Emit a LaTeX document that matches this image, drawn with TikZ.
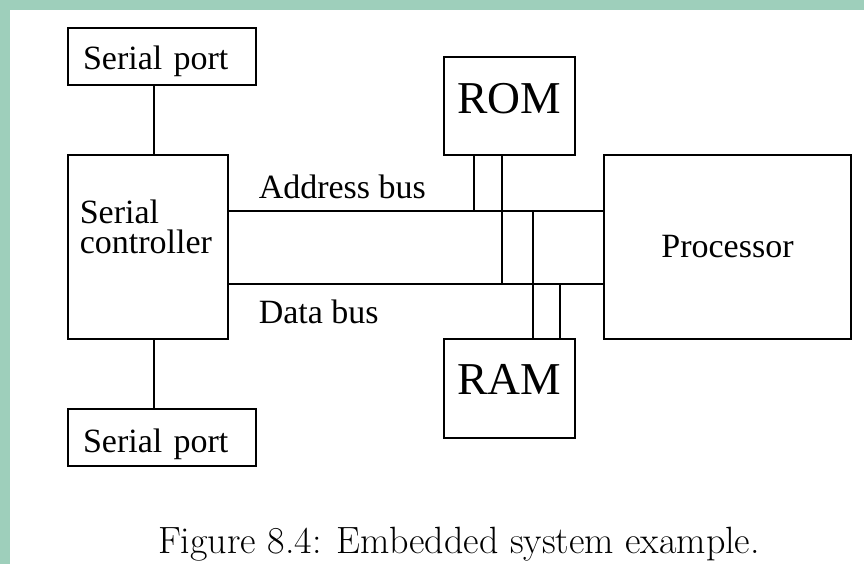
\documentclass[tikz,border=0pt]{standalone}
\usepackage{fontspec}
\setmainfont{Liberation Serif}
\newfontfamily\capfont{Latin Modern Roman}
\definecolor{bordergreen}{RGB}{158,207,187}
\begin{document}
\begin{tikzpicture}[x=1pt,y=-1pt,line width=1.5pt,
        font=\fontsize{34}{30}\selectfont]
        \useasboundingbox (0,0) rectangle (864,564);
        \fill[bordergreen] (0,0) rectangle (864,564);
        \fill[white] (10,10) rectangle (864,564);
        \begin{scope}[every node/.style={draw,rectangle,line width=1.5pt,
                        inner sep=0pt}]
            \node (sp1) at (162,56.5) [minimum width=188pt,minimum height=57pt,
                text width=158pt,inner xsep=15pt,align=left,
                text height=34pt,text depth=7pt]{Serial port};
            \node (ctrl) at (148,247) [minimum width=160pt,minimum height=184pt]{};
            \node (sp2) at (162,437.5) [minimum width=188pt,minimum height=57pt,
                text width=158pt,inner xsep=15pt,align=left,
                text height=36pt,text depth=7pt]{Serial port};
            \node (rom) at (509.5,106) [minimum width=131pt,minimum height=98pt,
                font=\fontsize{45.6}{50}\selectfont,text depth=16pt]{ROM};
            \node (ram) at (509.5,388.5) [minimum width=131pt,minimum height=99pt,
                font=\fontsize{45.6}{50}\selectfont,text depth=18pt]{RAM};
            \node (proc) at (727.5,247) [minimum width=247pt,minimum height=184pt]{Processor};
        \end{scope}
        \node (ctrltxt) at (79,199) [anchor=north west,inner sep=0pt,align=left]{Serial\\controller};
        \node (abus) at (258,198) [anchor=base west,inner sep=0pt]{Address bus};
        \node (dbus) at (258,323) [anchor=base west,inner sep=0pt]{Data bus};
        \node (cap) at (459,553) [anchor=base,inner sep=0pt,
            font=\capfont\fontsize{38}{45}\selectfont]{Figure 8.4: Embedded system example.};
        % bus taps
        \coordinate (spx) at (154,0);
        \coordinate (addr) at (0,211);
        \coordinate (data) at (0,284);
        \coordinate (romA) at (474,211);
        \coordinate (romD) at (502,284);
        \coordinate (ramA) at (533,211);
        \coordinate (ramD) at (560,284);
        \path (sp1.south -| spx) edge (ctrl.north -| spx);
        \path (ctrl.south -| spx) edge (sp2.north -| spx);
        \path (ctrl.east |- addr) edge (proc.west |- addr);
        \path (ctrl.east |- data) edge (proc.west |- data);
        \path (rom.south -| romA) edge (romA);
        \path (rom.south -| romD) edge (romD);
        \path (ramA) edge (ram.north -| ramA);
        \path (ramD) edge (ram.north -| ramD);
\end{tikzpicture}
\end{document}
